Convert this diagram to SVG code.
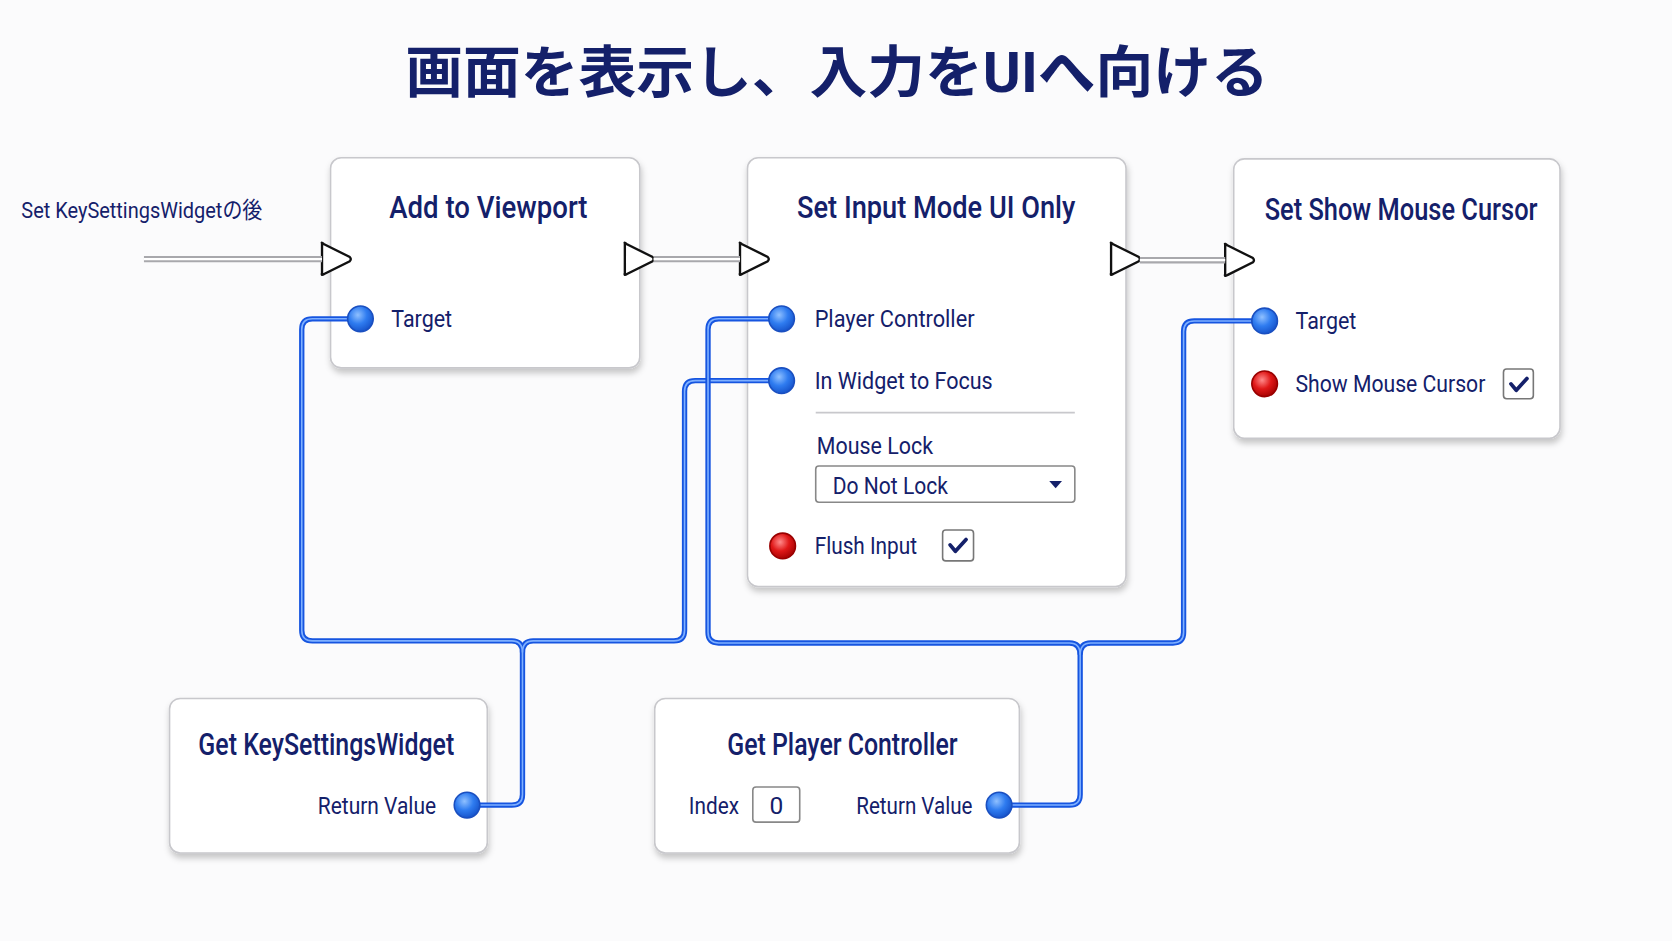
<svg xmlns="http://www.w3.org/2000/svg" width="1672" height="941" viewBox="0 0 1672 941">
<defs>
<filter id="sh" x="-10%" y="-10%" width="120%" height="130%"><feDropShadow dx="1" dy="4" stdDeviation="3" flood-color="#000" flood-opacity="0.22"/></filter>
<radialGradient id="bp" cx="0.4" cy="0.35" r="0.7"><stop offset="0" stop-color="#8fc0ff"/><stop offset="0.5" stop-color="#2f7cf0"/><stop offset="1" stop-color="#1450c8"/></radialGradient>
<radialGradient id="rp" cx="0.4" cy="0.35" r="0.7"><stop offset="0" stop-color="#ff8a8a"/><stop offset="0.5" stop-color="#e01818"/><stop offset="1" stop-color="#a00000"/></radialGradient>
<path id="ex" d="M-13,-15 Q-14,-16 -11,-14 L13,-2 Q15,0 13,2 L-11,14 Q-14,16 -13,13 Z"/>
</defs>
<style>
text{font-family:Roboto,"Liberation Sans","Noto Sans CJK JP",sans-serif;fill:#14206a}
.ttl{font-size:29px;text-anchor:middle;font-weight:500}
.lbl{font-size:23px}
.box{fill:#fff;stroke:#c8c8cc;stroke-width:1.5;filter:url(#sh)}
.bp{fill:url(#bp);stroke:#1a4fc0;stroke-width:1.5}
.rp{fill:url(#rp);stroke:#900;stroke-width:1.5}
.exec{fill:#fff;stroke:#111;stroke-width:2.2}
.eo{fill:none;stroke:#a8a8ac;stroke-width:6}
.ei{fill:none;stroke:#fff;stroke-width:2}
.wo{fill:none;stroke:#1655e0;stroke-width:5}
.wi{fill:none;stroke:#7fb0ff;stroke-width:1.5}
.cb{fill:#fff;stroke:#777;stroke-width:1.5}
.ck{fill:none;stroke:#14206a;stroke-width:3.5;stroke-linecap:round;stroke-linejoin:round}
</style>
<rect width="1672" height="941" fill="#fbfbfc"/>
<g transform="scale(1.0663)">
<text x="785" y="86" textLength="810" lengthAdjust="spacingAndGlyphs" style="font-size:52px;font-weight:700;text-anchor:middle;fill:#14206a">画面を表示し、入力をUIへ向ける</text>
<text x="20" y="204" style="font-size:21px" textLength="226" lengthAdjust="spacingAndGlyphs">Set KeySettingsWidgetの後</text>

<g id="node-add-to-viewport">
<rect class="box" x="310" y="148" width="290" height="197" rx="10"/>
<text class="ttl" x="458" y="204" textLength="186" lengthAdjust="spacingAndGlyphs">Add to Viewport</text>
<use href="#ex" class="exec" x="315" y="243"/>
<use href="#ex" class="exec" x="599" y="243"/>
<text class="lbl" x="367" y="307" textLength="57" lengthAdjust="spacingAndGlyphs">Target</text>
</g>
<g id="node-set-input-mode">
<rect class="box" x="701" y="148" width="355" height="402" rx="10"/>
<text class="ttl" x="878" y="204" textLength="261" lengthAdjust="spacingAndGlyphs">Set Input Mode UI Only</text>
<use href="#ex" class="exec" x="707" y="243"/>
<use href="#ex" class="exec" x="1055" y="243"/>
<text class="lbl" x="764" y="307" textLength="150" lengthAdjust="spacingAndGlyphs">Player Controller</text>
<text class="lbl" x="764" y="365" textLength="167" lengthAdjust="spacingAndGlyphs">In Widget to Focus</text>
<line x1="765" y1="387" x2="1008" y2="387" stroke="#c8c8cc" stroke-width="1.5"/>
<text class="lbl" x="766" y="426" textLength="109" lengthAdjust="spacingAndGlyphs">Mouse Lock</text>
<rect x="765" y="437" width="243" height="34" rx="3" fill="#fff" stroke="#888" stroke-width="1.5"/>
<text class="lbl" x="781" y="463" textLength="108" lengthAdjust="spacingAndGlyphs">Do Not Lock</text>
<path d="M984,451 h12 l-6,7 z" fill="#14206a"/>
<circle class="rp" cx="734" cy="512" r="12"/>
<text class="lbl" x="764" y="520" textLength="96" lengthAdjust="spacingAndGlyphs">Flush Input</text>
<rect class="cb" x="884" y="497" width="29" height="29" rx="3"/>
<path class="ck" d="M891,511 l5,6 l10,-11"/>
</g>
<g id="node-set-show-mouse-cursor">
<rect class="box" x="1157" y="149" width="306" height="262" rx="10"/>
<text class="ttl" x="1314" y="206" textLength="256" lengthAdjust="spacingAndGlyphs">Set Show Mouse Cursor</text>
<use href="#ex" class="exec" x="1162" y="244"/>
<text class="lbl" x="1215" y="309" textLength="57" lengthAdjust="spacingAndGlyphs">Target</text>
<circle class="rp" cx="1186" cy="360" r="12"/>
<text class="lbl" x="1215" y="368" textLength="178" lengthAdjust="spacingAndGlyphs">Show Mouse Cursor</text>
<rect class="cb" x="1410" y="346" width="28" height="28" rx="3"/>
<path class="ck" d="M1417,360 l5,6 l10,-11"/>
</g>
<g id="node-get-keysettingswidget">
<rect class="box" x="159" y="655" width="298" height="145" rx="10"/>
<text class="ttl" x="306" y="708" textLength="240" lengthAdjust="spacingAndGlyphs">Get KeySettingsWidget</text>
<text class="lbl" x="298" y="763" textLength="111" lengthAdjust="spacingAndGlyphs">Return Value</text>
</g>
<g id="node-get-player-controller">
<rect class="box" x="614" y="655" width="342" height="145" rx="10"/>
<text class="ttl" x="790" y="708" textLength="216" lengthAdjust="spacingAndGlyphs">Get Player Controller</text>
<text class="lbl" x="646" y="763" textLength="47" lengthAdjust="spacingAndGlyphs">Index</text>
<rect x="706" y="738" width="44" height="33" rx="3" fill="#fff" stroke="#888" stroke-width="1.5"/>
<text class="lbl" x="728" y="763" text-anchor="middle">0</text>
<text class="lbl" x="803" y="763" textLength="109" lengthAdjust="spacingAndGlyphs">Return Value</text>
</g>

<g id="connectors">
<path class="eo" d="M135,243 H302"/><path class="ei" d="M135,243 H302"/>
<path class="eo" d="M613,243 H694"/><path class="ei" d="M613,243 H694"/>
<path class="eo" d="M1069,244 H1149"/><path class="ei" d="M1069,244 H1149"/>
<g id="wire1">
<path class="wo" d="M438,755 H480 Q490,755 490,745 V612 Q490,601 480,601 H293 Q283,601 283,591 V309 Q283,299 293,299 H338"/>
<path class="wo" d="M490,612 Q490,601 500,601 H632 Q642,601 642,591 V367 Q642,357 652,357 H733"/>
<path class="wi" d="M438,755 H480 Q490,755 490,745 V612 Q490,601 480,601 H293 Q283,601 283,591 V309 Q283,299 293,299 H338"/>
<path class="wi" d="M490,612 Q490,601 500,601 H632 Q642,601 642,591 V367 Q642,357 652,357 H733"/>
</g>
<g id="wire2">
<path class="wo" d="M937,755 H1003 Q1013,755 1013,745 V614 Q1013,603 1003,603 H674 Q664,603 664,593 V309 Q664,299 674,299 H733"/>
<path class="wo" d="M1013,614 Q1013,603 1023,603 H1100 Q1110,603 1110,593 V311 Q1110,301 1120,301 H1186"/>
<path class="wi" d="M937,755 H1003 Q1013,755 1013,745 V614 Q1013,603 1003,603 H674 Q664,603 664,593 V309 Q664,299 674,299 H733"/>
<path class="wi" d="M1013,614 Q1013,603 1023,603 H1100 Q1110,603 1110,593 V311 Q1110,301 1120,301 H1186"/>
</g>
</g>
<g id="pins">
<circle class="bp" cx="338" cy="299" r="12"/>
<circle class="bp" cx="733" cy="299" r="12"/>
<circle class="bp" cx="733" cy="357" r="12"/>
<circle class="bp" cx="1186" cy="301" r="12"/>
<circle class="bp" cx="438" cy="755" r="12"/>
<circle class="bp" cx="937" cy="755" r="12"/>
</g>
</g>
</svg>
